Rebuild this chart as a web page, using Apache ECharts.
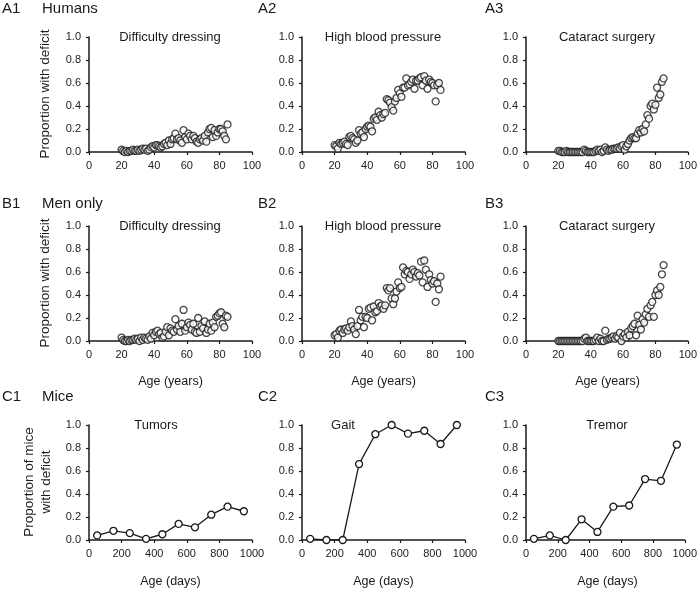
<!DOCTYPE html>
<html>
<head>
<meta charset="utf-8">
<script src="https://cdn.jsdelivr.net/npm/echarts@6/dist/echarts.min.js"></script>
<style>
  html, body { margin: 0; padding: 0; background: #fff; }
  #chart { width: 700px; height: 589px; }
</style>
</head>
<body>
<div id="chart"></div>
<script>
// ages (years) for the human panels
const ageYears = [20,21,22,23,24,25,26,27,28,29,30,31,32,33,34,35,36,37,38,39,40,41,42,43,44,45,46,47,48,49,50,51,52,53,54,55,56,57,58,59,60,61,62,63,64,65,66,67,68,69,70,71,72,73,74,75,76,77,78,79,80,81,82,83,84,85];
// ages (days) for the mouse panels
const ageDays = [50,150,250,350,450,550,650,750,850,950];

// A row - humans
const humansDressing = [0.02,0.01,0.00,0.01,0.00,0.01,0.01,0.02,0.01,0.01,0.02,0.01,0.02,0.03,0.02,0.03,0.01,0.02,0.04,0.05,0.04,0.06,0.06,0.05,0.04,0.05,0.07,0.08,0.06,0.10,0.07,0.11,0.12,0.16,0.11,0.12,0.10,0.08,0.19,0.13,0.11,0.16,0.14,0.11,0.14,0.12,0.09,0.08,0.11,0.12,0.10,0.14,0.09,0.17,0.20,0.21,0.13,0.19,0.14,0.17,0.20,0.20,0.18,0.14,0.11,0.24];
const humansBP = [0.06,0.05,0.03,0.08,0.07,0.08,0.09,0.07,0.06,0.13,0.14,0.12,0.11,0.08,0.10,0.19,0.16,0.17,0.13,0.20,0.22,0.23,0.22,0.18,0.29,0.30,0.28,0.35,0.32,0.30,0.33,0.34,0.46,0.45,0.43,0.39,0.36,0.44,0.47,0.54,0.51,0.48,0.56,0.56,0.64,0.58,0.59,0.61,0.63,0.55,0.62,0.62,0.64,0.65,0.58,0.66,0.62,0.55,0.63,0.61,0.60,0.58,0.44,0.58,0.60,0.54];
const humansCataract = [0.01,0.01,0.00,0.00,0.00,0.01,0.00,0.00,0.00,0.00,0.00,0.00,0.00,0.00,0.00,0.00,0.02,0.01,0.00,0.00,0.00,0.00,0.00,0.01,0.02,0.01,0.02,0.00,0.01,0.04,0.02,0.01,0.02,0.02,0.03,0.03,0.03,0.04,0.03,0.05,0.06,0.02,0.05,0.07,0.10,0.12,0.13,0.12,0.12,0.16,0.19,0.17,0.20,0.18,0.24,0.32,0.29,0.40,0.42,0.37,0.41,0.56,0.47,0.50,0.61,0.64];

// B row - men only
const menDressing = [0.03,0.01,0.00,0.00,0.01,0.00,0.01,0.01,0.02,0.01,0.02,0.00,0.03,0.01,0.03,0.02,0.01,0.04,0.02,0.07,0.05,0.08,0.09,0.06,0.07,0.03,0.04,0.08,0.12,0.05,0.11,0.09,0.08,0.19,0.10,0.13,0.08,0.15,0.27,0.09,0.12,0.16,0.14,0.10,0.15,0.08,0.07,0.20,0.08,0.13,0.11,0.17,0.07,0.10,0.15,0.09,0.16,0.12,0.21,0.22,0.24,0.25,0.15,0.12,0.22,0.21];
const menBP = [0.05,0.06,0.03,0.09,0.10,0.07,0.10,0.11,0.09,0.12,0.17,0.13,0.10,0.06,0.13,0.27,0.18,0.21,0.12,0.21,0.20,0.28,0.29,0.18,0.30,0.25,0.26,0.33,0.30,0.31,0.28,0.31,0.46,0.44,0.46,0.37,0.32,0.37,0.43,0.51,0.46,0.47,0.64,0.58,0.61,0.60,0.54,0.58,0.62,0.60,0.56,0.59,0.57,0.69,0.51,0.70,0.62,0.47,0.58,0.53,0.50,0.52,0.34,0.50,0.45,0.56];
const menCataract = [0.00,0.00,0.00,0.00,0.00,0.00,0.00,0.00,0.00,0.00,0.00,0.00,0.00,0.00,0.00,0.00,0.02,0.03,0.00,0.00,0.00,0.00,0.00,0.01,0.03,0.00,0.02,0.00,0.00,0.09,0.01,0.02,0.02,0.03,0.04,0.02,0.04,0.03,0.07,0.00,0.04,0.06,0.03,0.08,0.05,0.11,0.13,0.15,0.05,0.22,0.14,0.10,0.19,0.16,0.23,0.28,0.21,0.31,0.34,0.21,0.40,0.44,0.40,0.47,0.58,0.66];

// C row - mice
const miceTumors = [0.04,0.08,0.06,0.01,0.05,0.14,0.11,0.22,0.29,0.25];
const miceGait = [0.01,0.00,0.00,0.66,0.92,1.00,0.925,0.95,0.835,1.00];
const miceTremor = [0.01,0.04,0.00,0.18,0.07,0.29,0.30,0.53,0.515,0.83];

const yTicks = ['0.0','0.2','0.4','0.6','0.8','1.0'];

const panels = [
  { title: 'Difficulty dressing', x: ageYears, y: humansDressing, kind: 'years', line: false },
  { title: 'High blood pressure', x: ageYears, y: humansBP, kind: 'years', line: false },
  { title: 'Cataract surgery', x: ageYears, y: humansCataract, kind: 'years', line: false },
  { title: 'Difficulty dressing', x: ageYears, y: menDressing, kind: 'years', line: false },
  { title: 'High blood pressure', x: ageYears, y: menBP, kind: 'years', line: false },
  { title: 'Cataract surgery', x: ageYears, y: menCataract, kind: 'years', line: false },
  { title: 'Tumors', x: ageDays, y: miceTumors, kind: 'days', line: true },
  { title: 'Gait', x: ageDays, y: miceGait, kind: 'days', line: true },
  { title: 'Tremor', x: ageDays, y: miceTremor, kind: 'days', line: true }
];

const FONT = '"Liberation Sans", Arial, sans-serif';
const INK = '#1a1a1a';
const lefts = [89, 302, 526];
const tops = [37, 226, 425];
const W = 163, H = 115;
// title x centres (some titles sit left of centre)
const titleX = [170, 383, 607, 170, 383, 607, 156, 343, 607];

const grids = [], xAxes = [], yAxes = [], series = [], graphics = [];

panels.forEach((p, i) => {
  const col = i % 3, row = Math.floor(i / 3);
  grids.push({ left: lefts[col], top: tops[row], width: W, height: H });
  const axisCommon = {
    axisLine: { lineStyle: { color: INK, width: 1.5 } },
    axisTick: { length: 3, lineStyle: { color: INK, width: 1.2 } },
    splitLine: { show: false },
    axisLabel: { color: '#222', fontSize: 11, fontFamily: FONT }
  };
  xAxes.push(Object.assign({}, axisCommon, {
    gridIndex: i, type: 'value', min: 0,
    max: p.kind === 'years' ? 100 : 1000,
    interval: p.kind === 'years' ? 20 : 200,
    axisLabel: Object.assign({}, axisCommon.axisLabel, { margin: 8, formatter: v => String(v) })
  }));
  yAxes.push(Object.assign({}, axisCommon, {
    gridIndex: i, type: 'value', min: 0, max: 1, interval: 0.2,
    axisLine: { show: true, lineStyle: { color: INK, width: 1.5 } },
    axisLabel: Object.assign({}, axisCommon.axisLabel, {
      margin: 8, formatter: v => yTicks[Math.round(v * 5)]
    })
  }));
  series.push({
    type: p.line ? 'line' : 'scatter',
    xAxisIndex: i, yAxisIndex: i,
    data: p.x.map((a, k) => [a, p.y[k]]),
    symbol: 'circle',
    symbolSize: 7,
    showSymbol: true,
    itemStyle: { color: '#fff', borderColor: INK, borderWidth: 1.3 },
    lineStyle: { color: INK, width: 1.3 },
    z: 3
  });
  graphics.push({
    type: 'text', x: titleX[i], y: tops[row],
    style: { text: p.title, font: '13px ' + FONT, fill: INK,
      align: 'center', verticalAlign: 'middle', textAlign: 'center', textVerticalAlign: 'middle' }
  });
});

function label(txt, x, y, size, align) {
  return { type: 'text', x: x, y: y,
    style: { text: txt, font: size + 'px ' + FONT, fill: INK,
      align: align || 'left', verticalAlign: 'middle',
      textAlign: align || 'left', textVerticalAlign: 'middle' } };
}

// panel letters and group names
const letterRows = [['A1', 'A2', 'A3'], ['B1', 'B2', 'B3'], ['C1', 'C2', 'C3']];
const letterY = [9, 204, 397];
const letterX = [2, 258, 485];
const groupNames = ['Humans', 'Men only', 'Mice'];
letterRows.forEach((r, ri) => {
  r.forEach((t, ci) => graphics.push(label(t, letterX[ci], letterY[ri], 15)));
  graphics.push(label(groupNames[ri], 42, letterY[ri], 15));
});

// y-axis names
function vlabel(txt, x, y) {
  return { type: 'text', x: x, y: y, rotation: Math.PI / 2,
    style: { text: txt, font: '13.5px ' + FONT, fill: INK,
      align: 'center', verticalAlign: 'middle', textAlign: 'center', textVerticalAlign: 'middle' } };
}
graphics.push(vlabel('Proportion with deficit', 45, 94));
graphics.push(vlabel('Proportion with deficit', 45, 283));
graphics.push(vlabel('Proportion of mice', 29, 482));
graphics.push(vlabel('with deficit', 46, 482));

// x-axis names
[0, 1, 2].forEach(c => {
  graphics.push(label('Age (years)', lefts[c] + W / 2, 382, 12.5, 'center'));
  graphics.push(label('Age (days)', lefts[c] + W / 2, 582, 12.5, 'center'));
});

const chart = echarts.init(document.getElementById('chart'), null, { renderer: 'canvas' });
chart.setOption({
  animation: false,
  backgroundColor: '#fff',
  grid: grids,
  xAxis: xAxes,
  yAxis: yAxes,
  series: series,
  graphic: graphics
});
</script>
</body>
</html>
